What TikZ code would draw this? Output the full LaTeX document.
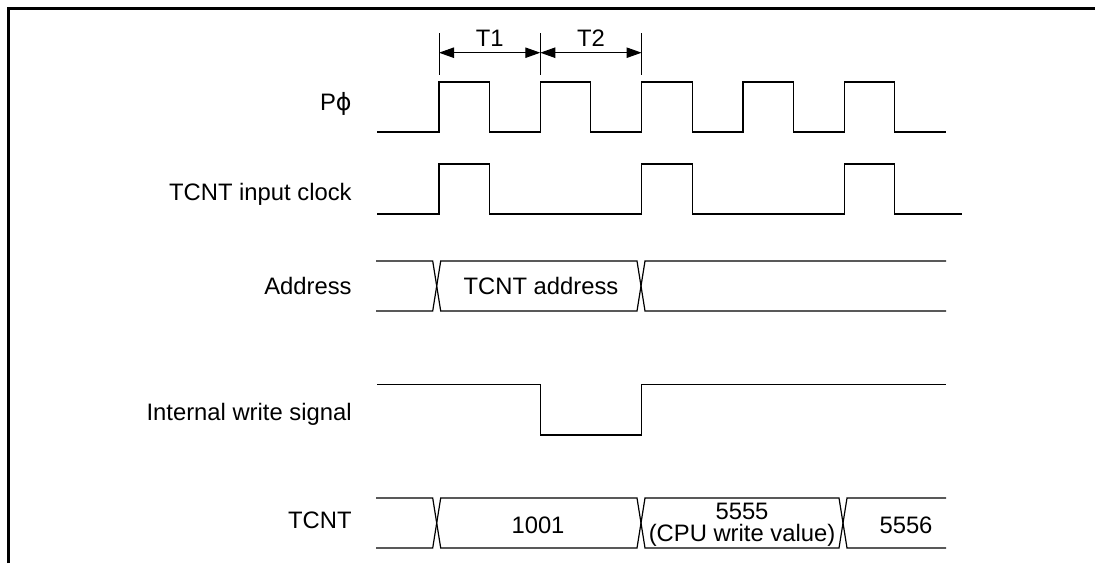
\documentclass[tikz,border=0pt]{standalone}
\usepackage{fontspec}
\setmainfont{Liberation Sans}
\newfontfamily\phifont{DejaVu Sans}
\usetikzlibrary{arrows.meta}

\begin{document}
\begin{tikzpicture}[x=0.5pt,y=-0.5pt,font=\fontsize{11.9}{14}\selectfont,
  sig/.style={line width=0.6pt,line join=miter},
  lbl/.style={anchor=base east,inner sep=0pt},
  val/.style={anchor=base,inner sep=0pt},
  tick/.style={line width=0.5pt},
  dim/.style={{Triangle[length=7.5pt,width=5.2pt]}-{Triangle[length=7.5pt,width=5.2pt]},line width=0.5pt}]
  \useasboundingbox (0,0) rectangle (1095,563);
  \draw[line width=1.5pt] (8,563) -- (8,8) -- (1095,8);
  % signal names
  \node[lbl] (phi) at (352,110) {P{\phifont ϕ}};
  \node[lbl] (clk) at (352,200) {TCNT input clock};
  \node[lbl] (adr) at (352,294) {Address};
  \node[lbl] (wr) at (352,420) {Internal write signal};
  \node[lbl] (cnt) at (352,528) {TCNT};
  % T1 / T2 cycles
  \foreach \x/\n in {439/t0,540.3/t1,641.6/t2}{
    \draw[tick] (\x,33) -- (\x,75);
    \coordinate (\n) at (\x,52.7);
  }
  \draw[dim] (t0) -- (t1) node[midway,above=3pt,inner sep=0pt] (tone) {T1};
  \draw[dim] (t1) -- (t2) node[midway,above=3pt,inner sep=0pt] (ttwo) {T2};
  % P phi
  \draw[sig] (377,132) foreach \k in {0,...,4}{ -| (439+101.3*\k,82) -| (489.5+101.3*\k,132) } -- (946,132);
  % TCNT input clock
  \draw[sig] (377,214) foreach \k in {0,2,4}{ -| (439+101.3*\k,164) -| (489.5+101.3*\k,214) } -- (962,214);
  % address bus
  \draw[sig] (376,261) -- (432.7,261) -- (440.7,311) -- (637,311) -- (645,261) -- (946,261);
  \draw[sig] (376,311) -- (432.7,311) -- (440.7,261) -- (637,261) -- (645,311) -- (946,311);
  \node[val] (adrv) at (541,294) {TCNT address};
  % internal write signal
  \draw[sig] (377,384.5) -| (540.3,435) -| (641.6,384.5) -- (946,384.5);
  % TCNT bus
  \draw[sig] (376,498) -- (432.7,498) -- (440.7,548) -- (637,548) -- (645,498) -- (839,498) -- (847,548) -- (946,548);
  \draw[sig] (376,548) -- (432.7,548) -- (440.7,498) -- (637,498) -- (645,548) -- (839,548) -- (847,498) -- (946,498);
  \node[val] (cnta) at (538,533) {1001};
  \node[align=center,inner sep=0pt,font=\fontsize{11.9}{10.9}\selectfont] (cntb) at (742,525) {5555\\(CPU write value)};
  \node[val] (cntc) at (906,533) {5556};
\end{tikzpicture}
\end{document}
